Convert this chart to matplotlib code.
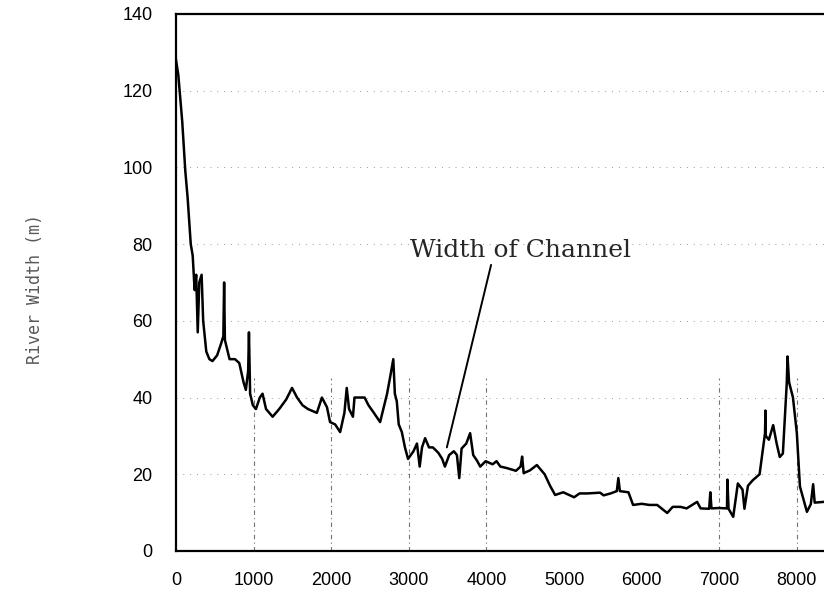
import numpy as np
import matplotlib.pyplot as plt

# distance along river (m) and river width (m)
dist = [0, 30, 80, 120, 150, 190, 215, 240, 260, 280, 300, 330, 350, 390, 430, 470,
        530, 580, 610, 620, 630, 690, 760, 815, 870, 900, 930, 940, 955, 990, 1030,
        1080, 1115, 1160, 1245, 1330, 1420, 1495, 1560, 1630, 1700, 1815, 1880, 1945,
        1985, 2050, 2115, 2170, 2200, 2230, 2280, 2300, 2370, 2430, 2480, 2550, 2630,
        2720, 2760, 2800, 2820, 2845, 2870, 2910, 2950, 2990, 3060, 3105, 3140, 3170,
        3210, 3260, 3310, 3380, 3430, 3465, 3520, 3580, 3620, 3650, 3680, 3740, 3790,
        3830, 3880, 3920, 3990, 4080, 4130, 4180, 4265, 4380, 4440, 4460, 4480, 4560,
        4650, 4750, 4820, 4885, 4990, 5130, 5200, 5300, 5465, 5510, 5600, 5680, 5700,
        5720, 5830, 5890, 6000, 6100, 6200, 6330, 6400, 6500, 6580, 6715, 6760, 6870,
        6885, 6900, 7000, 7100, 7105, 7120, 7180, 7240, 7300, 7325, 7370, 7430, 7520,
        7590, 7595, 7600, 7640, 7695, 7740, 7780, 7820, 7870, 7880, 7900, 7950, 8000,
        8040, 8130, 8180, 8210, 8230, 8350]
width = [128, 124, 112, 99, 92, 80, 77, 68, 72, 57, 70, 72, 60, 52, 50, 49.5,
         51, 54, 56, 70, 55, 50, 50, 49, 44, 42, 47, 57, 41, 38, 37,
         40, 41, 37, 35, 37, 39.5, 42.5, 40, 38, 37, 36, 40, 37.5,
         33.6, 33, 31, 36, 42.5, 37, 35, 40, 40, 40, 38, 36, 33.6,
         41, 45.4, 50, 41, 39, 33, 31, 27, 24, 26, 28, 22, 27,
         29.4, 27, 27, 25.6, 24, 22, 25, 26, 25, 19, 26.7, 28, 30.7,
         25, 23.5, 22, 23.4, 22.6, 23.4, 22, 21.6, 20.9, 22, 24.6, 20.3, 21,
         22.4, 20, 17, 14.6, 15.3, 14, 15, 15, 15.2, 14.5, 15, 15.6, 19,
         15.6, 15.3, 12, 12.3, 12, 12, 9.9, 11.5, 11.5, 11.1, 12.8, 11.1, 11,
         15.3, 11.1, 11.2, 11.1, 18.6, 11, 8.9, 17.6, 16, 11, 17, 18.4, 20,
         30.7, 36.6, 30, 29, 32.8, 28, 24.5, 25.4, 43.7, 50.7, 44, 40, 30.7,
         16.8, 10.2, 12.2, 17.4, 12.6, 12.8]

xticks = [0, 1000, 2000, 3000, 4000, 5000, 6000, 7000, 8000]
yticks = [0, 20, 40, 60, 80, 100, 120, 140]
vgrid = [1000, 2000, 3000, 4000, 7000, 8000]

fig = plt.figure(figsize=(8.24, 6.05), dpi=100)
ax = fig.add_axes([0.2136, 0.0893, 0.7864, 0.8877])

for y in yticks[1:-1]:
    ax.axhline(y, color='0.6', lw=0.7, ls=(0, (1, 6)), zorder=1)
ax.vlines(vgrid, 0, 45, color='0.45', lw=0.8, ls=(0, (4, 3, 1, 3)), zorder=1)

ax.plot(dist, width, color='black', lw=1.8, zorder=3)

ax.set_xlim(0, 8350)
ax.set_ylim(0, 140)
ax.set_xticks(xticks)
ax.set_yticks(yticks)
ax.tick_params(length=0, labelsize=13)
ax.tick_params(axis='x', pad=15)
ax.tick_params(axis='y', pad=17)
for lab in ax.get_xticklabels() + ax.get_yticklabels():
    lab.set_fontfamily('Liberation Sans')
ax.spines['right'].set_visible(False)
for s in ['left', 'bottom', 'top']:
    ax.spines[s].set_linewidth(1.6)

fig.text(0.042, 0.522, 'River Width (m)', rotation=90, ha='center', va='center',
         family='DejaVu Sans Mono', fontsize=12, color='0.35')

ax.annotate('Width of Channel', xy=(3490, 27), xytext=(3015, 76.6),
            fontsize=18, family='DejaVu Serif', color='0.15',
            arrowprops=dict(arrowstyle='-', color='black', lw=1.4,
                            shrinkA=0, shrinkB=0, relpos=(0.37, 0)))

fig.savefig('out.png', dpi=100)
